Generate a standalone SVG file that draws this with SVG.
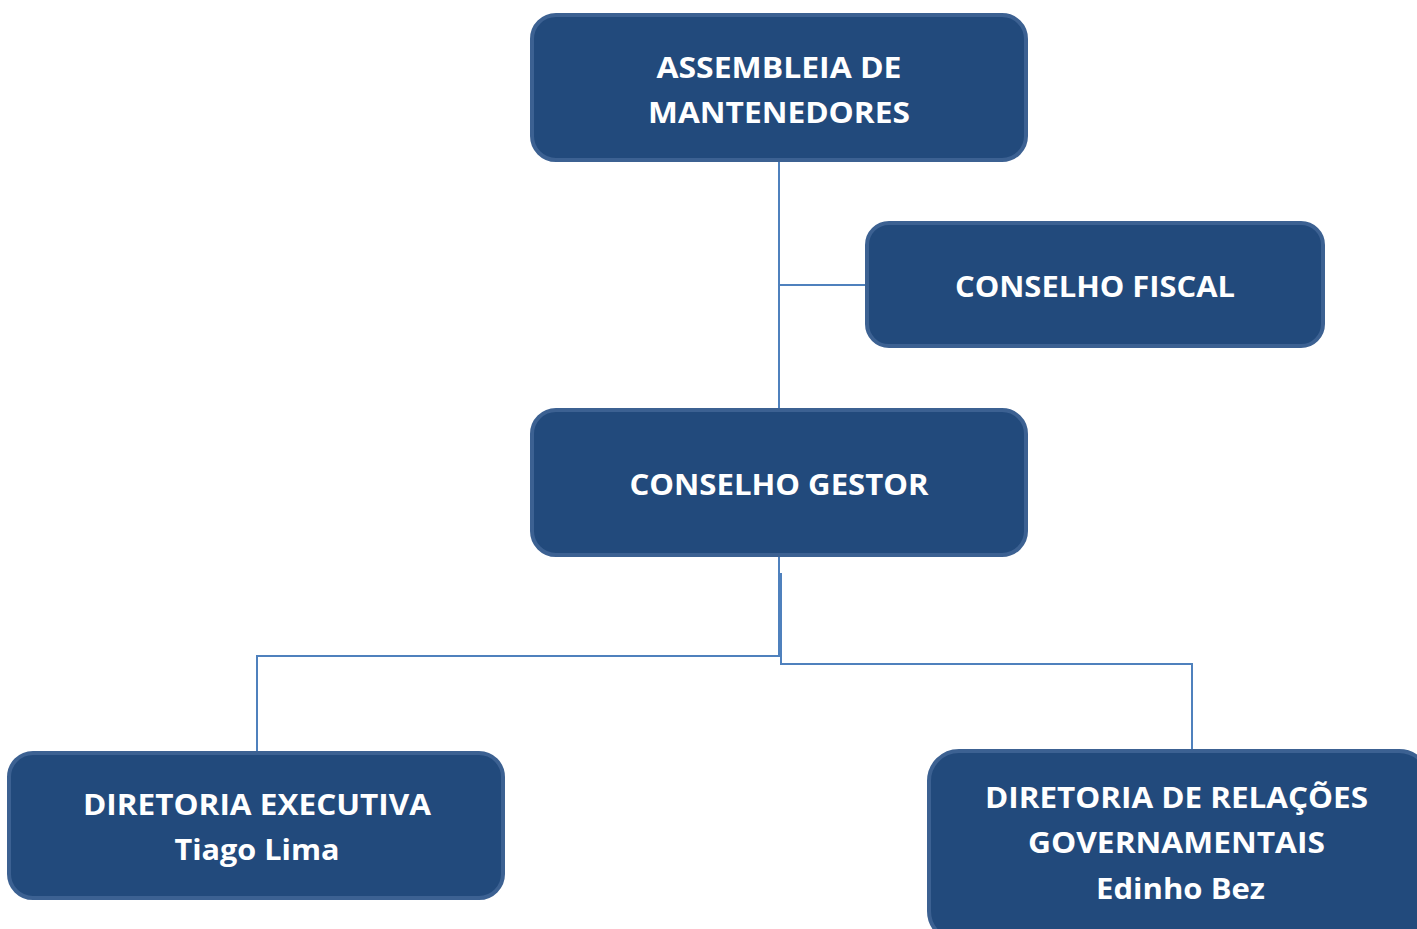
<svg xmlns="http://www.w3.org/2000/svg" width="1417" height="929" viewBox="0 0 1417 929">
<style>
.box{fill:#224a7c;stroke:#3c6192;stroke-width:4}
.t{fill:#ffffff;font-family:"Open Sans","Liberation Sans",sans-serif;font-weight:700;font-size:29px;text-anchor:middle}
.c{fill:none;stroke:#4f81bd;stroke-width:2}
</style>
<rect width="1417" height="929" fill="#ffffff"/>
<g id="connectors">
<path class="c" d="M779 161 V409"/>
<path class="c" d="M779 285 H866"/>
<path class="c" d="M779 556 V656 H257 V752"/>
<path class="c" d="M781 573 V664 H1192 V750"/>
</g>
<g id="assembleia">
<rect class="box" x="532" y="15" width="494" height="145" rx="24"/>
<text class="t" x="779" y="78" textLength="245" lengthAdjust="spacingAndGlyphs">ASSEMBLEIA DE</text>
<text class="t" x="779" y="123" textLength="262" lengthAdjust="spacingAndGlyphs">MANTENEDORES</text>
</g>
<g id="fiscal">
<rect class="box" x="867" y="223" width="456" height="123" rx="22"/>
<text class="t" x="1095" y="297" textLength="280" lengthAdjust="spacingAndGlyphs">CONSELHO FISCAL</text>
</g>
<g id="gestor">
<rect class="box" x="532" y="410" width="494" height="145" rx="24"/>
<text class="t" x="779" y="495" textLength="299" lengthAdjust="spacingAndGlyphs">CONSELHO GESTOR</text>
</g>
<g id="executiva">
<rect class="box" x="9" y="753" width="494" height="145" rx="24"/>
<text class="t" x="257" y="815" textLength="348" lengthAdjust="spacingAndGlyphs">DIRETORIA EXECUTIVA</text>
<text class="t" x="257" y="860" textLength="165" lengthAdjust="spacingAndGlyphs">Tiago Lima</text>
</g>
<g id="relacoes">
<rect class="box" x="929" y="751" width="500" height="190" rx="30"/>
<text class="t" x="1176.5" y="808" textLength="383" lengthAdjust="spacingAndGlyphs">DIRETORIA DE RELAÇÕES</text>
<text class="t" x="1176.5" y="853" textLength="297" lengthAdjust="spacingAndGlyphs">GOVERNAMENTAIS</text>
<text class="t" x="1180.5" y="899" textLength="169" lengthAdjust="spacingAndGlyphs">Edinho Bez</text>
</g>
</svg>
